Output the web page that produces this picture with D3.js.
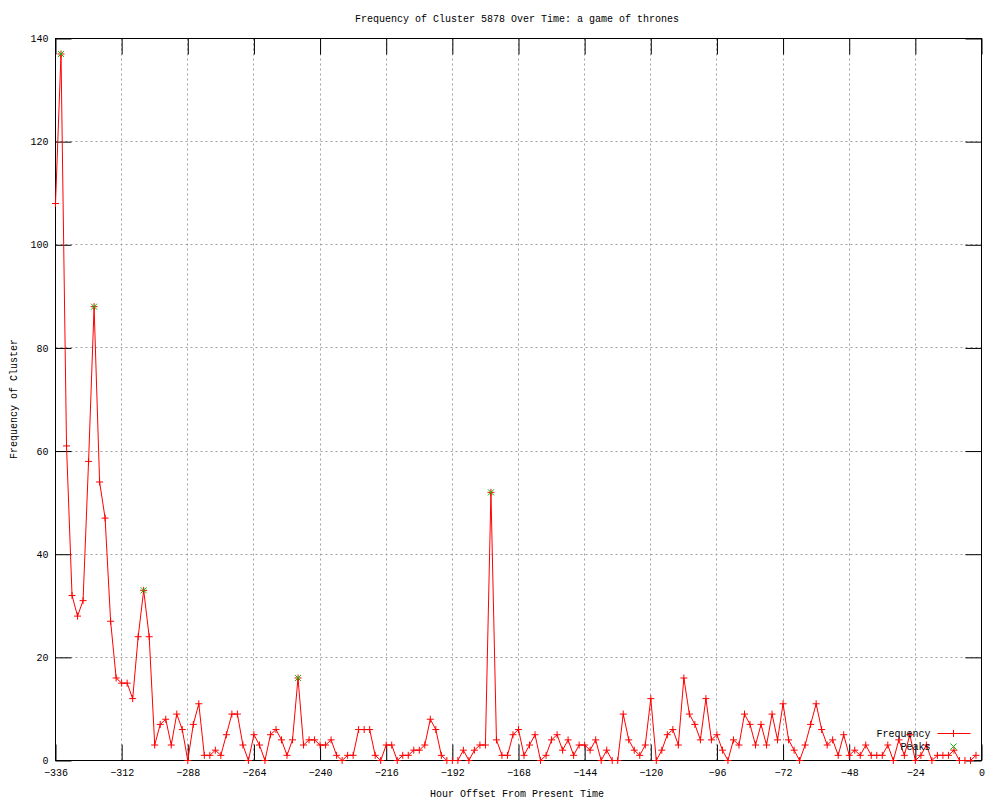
<!DOCTYPE html>
<html>
<head>
<meta charset="utf-8">
<script src="https://cdn.jsdelivr.net/npm/d3@7"></script>
<style>
  body { margin: 0; background: #ffffff; }
  svg { display: block; }
  text { font-family: "Liberation Mono", "DejaVu Sans Mono", monospace; font-size: 10px; fill: #000000; }
</style>
</head>
<body>
<div id="chart"></div>
<script>
// hour offsets, one reading every 2 hours
var hourOffsets = d3.range(-336, 0, 2);

// frequency of the cluster at each offset
var frequency = [
  108, 137, 61, 32, 28, 31, 58, 88, 54, 47,
  27, 16, 15, 15, 12, 24, 33, 24, 3, 7,
  8, 3, 9, 6, 0, 7, 11, 1, 1, 2,
  1, 5, 9, 9, 3, 0, 5, 3, 0, 5,
  6, 4, 1, 4, 16, 3, 4, 4, 3, 3,
  4, 1, 0, 1, 1, 6, 6, 6, 1, 0,
  3, 3, 0, 1, 1, 2, 2, 3, 8, 6,
  1, 0, 0, 0, 2, 0, 2, 3, 3, 52,
  4, 1, 1, 5, 6, 1, 3, 5, 0, 1,
  4, 5, 2, 4, 1, 3, 3, 2, 4, 0,
  2, 0, 0, 9, 4, 2, 1, 3, 12, 0,
  2, 5, 6, 3, 16, 9, 7, 4, 12, 4,
  5, 2, 0, 4, 3, 9, 7, 3, 7, 3,
  9, 4, 11, 4, 2, 0, 3, 7, 11, 6,
  3, 4, 1, 5, 1, 2, 1, 3, 1, 1,
  1, 3, 0, 4, 1, 5, 0, 1, 3, 0,
  1, 1, 1, 2, 0, 0, 0, 1
];

// detected peaks
var peakHours = [-334, -322, -304, -248, -178];
var peakValues = [137, 88, 33, 16, 52];

var xTicks = [-336, -312, -288, -264, -240, -216, -192, -168, -144, -120, -96, -72, -48, -24, 0];
var yTicks = [0, 20, 40, 60, 80, 100, 120, 140];

var chartTitle = "Frequency of Cluster 5878 Over Time: a game of thrones";
var xTitle = "Hour Offset From Present Time";
var yTitle = "Frequency of Cluster";

// svg area
var svgWidth = 1000;
var svgHeight = 800;

var margin = {
  top: 38,
  right: 19,
  bottom: 40,
  left: 55
};

var width = svgWidth - margin.left - margin.right;
var height = svgHeight - margin.top - margin.bottom;

var svg = d3
  .select("#chart")
  .append("svg")
  .attr("width", svgWidth)
  .attr("height", svgHeight);

var chartGroup = svg.append("g")
  .attr("transform", `translate(${margin.left + 0.5}, ${margin.top + 0.5})`);

var xScale = d3.scaleLinear()
  .domain([-336, 0])
  .range([0, width]);

var yScale = d3.scaleLinear()
  .domain([0, 140])
  .range([height, 0]);

var points = hourOffsets.map((h, i) => ({ hour: h, value: frequency[i] }));
var peaks = peakHours.map((h, i) => ({ hour: h, value: peakValues[i] }));

// dotted grid
chartGroup.append("g")
  .selectAll("line")
  .data(xTicks.slice(1, -1))
  .enter()
  .append("line")
  .attr("x1", d => Math.round(xScale(d)))
  .attr("x2", d => Math.round(xScale(d)))
  .attr("y1", 0)
  .attr("y2", height)
  .attr("stroke", "#a0a0a0")
  .attr("stroke-dasharray", "2,3");

chartGroup.append("g")
  .selectAll("line")
  .data(yTicks.slice(1, -1))
  .enter()
  .append("line")
  .attr("x1", 0)
  .attr("x2", width)
  .attr("y1", d => Math.round(yScale(d)))
  .attr("y2", d => Math.round(yScale(d)))
  .attr("stroke", "#a0a0a0")
  .attr("stroke-dasharray", "2,3");

// axes, ticks pointing inward, mirrored on top and right
var tickLen = 16;

var bottomAxis = d3.axisBottom(xScale).tickValues(xTicks).tickSize(-tickLen).tickPadding(8).tickSizeOuter(0);
var topAxis = d3.axisTop(xScale).tickValues(xTicks).tickSize(-tickLen).tickFormat("").tickSizeOuter(0);
var leftAxis = d3.axisLeft(yScale).tickValues(yTicks).tickSize(-tickLen).tickPadding(7).tickSizeOuter(0);
var rightAxis = d3.axisRight(yScale).tickValues(yTicks).tickSize(-tickLen).tickFormat("").tickSizeOuter(0);

var xAxisG = chartGroup.append("g")
  .attr("transform", `translate(0, ${height})`)
  .call(bottomAxis);
chartGroup.append("g").call(topAxis);
var yAxisG = chartGroup.append("g").call(leftAxis);
chartGroup.append("g").attr("transform", `translate(${width}, 0)`).call(rightAxis);

chartGroup.selectAll(".domain").remove();
chartGroup.selectAll(".tick line").attr("stroke", "#000000");
chartGroup.selectAll(".tick text")
  .attr("font-family", null)
  .attr("font-size", null)
  .attr("fill", "#000000");

// frame
chartGroup.append("rect")
  .attr("x", 0)
  .attr("y", 0)
  .attr("width", width)
  .attr("height", height)
  .attr("fill", "none")
  .attr("stroke", "#000000");

// frequency line
var line = d3.line()
  .x(d => xScale(d.hour))
  .y(d => yScale(d.value));

chartGroup.append("path")
  .datum(points)
  .attr("d", line)
  .attr("fill", "none")
  .attr("stroke", "#ff0000")
  .attr("stroke-width", 1);

// plus markers
var s = 3.5;
chartGroup.append("g")
  .selectAll("path")
  .data(points)
  .enter()
  .append("path")
  .attr("d", d => {
    var x = xScale(d.hour), y = yScale(d.value);
    return `M${x - s},${y}H${x + s}M${x},${y - s}V${y + s}`;
  })
  .attr("stroke", "#ff0000")
  .attr("fill", "none");

// peak markers (x)
chartGroup.append("g")
  .selectAll("path")
  .data(peaks)
  .enter()
  .append("path")
  .attr("d", d => {
    var x = xScale(d.hour), y = yScale(d.value);
    return `M${x - 3},${y - 3}L${x + 3},${y + 3}M${x - 3},${y + 3}L${x + 3},${y - 3}`;
  })
  .attr("stroke", "#00c000")
  .attr("fill", "none");

// legend
var legend = chartGroup.append("g")
  .attr("transform", `translate(${width - 28}, ${height - 27})`);

legend.append("text")
  .attr("x", -23)
  .attr("y", 0)
  .attr("dy", "0.35em")
  .attr("text-anchor", "end")
  .text("Frequency");
legend.append("path")
  .attr("d", "M-16,0H17M0,-3.5V3.5")
  .attr("stroke", "#ff0000")
  .attr("fill", "none");

legend.append("text")
  .attr("x", -23)
  .attr("y", 13)
  .attr("dy", "0.35em")
  .attr("text-anchor", "end")
  .text("Peaks");
legend.append("path")
  .attr("d", "M-3,10L3,16M-3,16L3,10")
  .attr("stroke", "#00c000")
  .attr("fill", "none");

// titles
svg.append("text")
  .attr("x", 517)
  .attr("y", 22)
  .attr("text-anchor", "middle")
  .text(chartTitle);

svg.append("text")
  .attr("x", 517)
  .attr("y", 797)
  .attr("text-anchor", "middle")
  .text(xTitle);

svg.append("text")
  .attr("transform", `translate(17, ${margin.top + height / 2}) rotate(-90)`)
  .attr("text-anchor", "middle")
  .text(yTitle);
</script>
</body>
</html>
